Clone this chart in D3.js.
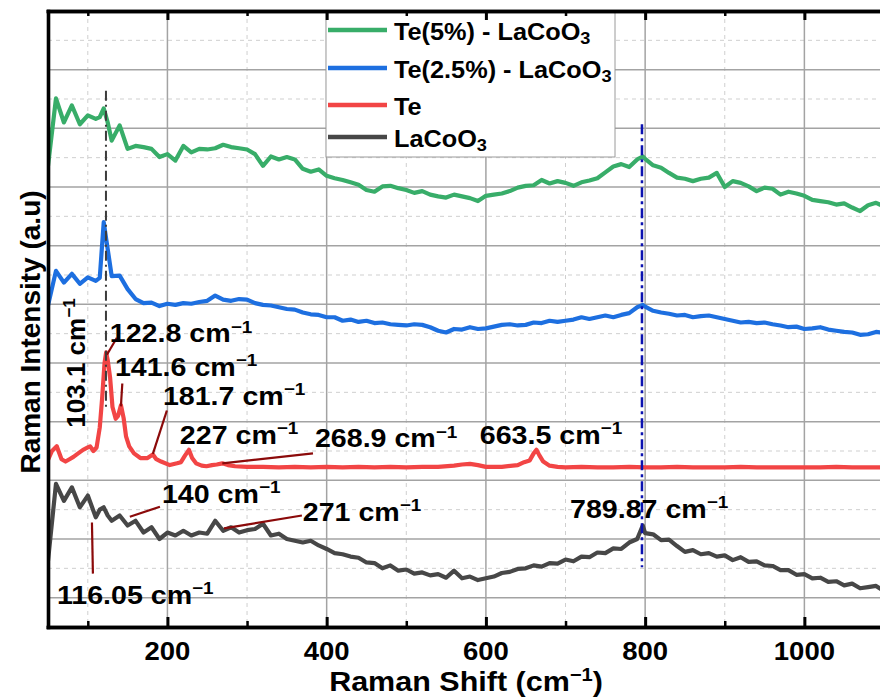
<!DOCTYPE html>
<html>
<head>
<meta charset="utf-8">
<script src="https://cdn.jsdelivr.net/npm/d3@7"></script>
<style>
  body { margin: 0; background: #fff; }
  svg text { font-family: "Liberation Sans", Arial, sans-serif; font-weight: bold; fill: #000; }
</style>
</head>
<body>
<script>
// Raman shift (cm-1) shared by the three broad spectra
const shift = [50,60,70,80,90,100,110,115,120,125,130,140,150,160,170,180,190,200,210,220,
  230,240,250,260,270,280,290,300,310,320,330,340,350,360,370,380,390,400,410,420,
  430,440,450,460,470,480,490,500,510,520,530,540,550,560,570,580,590,600,610,620,
  630,640,650,660,670,680,690,700,710,720,730,740,750,760,770,780,790,797,800,810,
  820,830,840,850,860,870,880,890,900,910,920,930,940,950,960,970,980,990,1000,1010,
  1020,1030,1040,1050,1060,1070,1080,1090,1100];

// stacked intensities (a.u.)
const te5 = [736,851,810,839,807,822,816,819,834,810,779,805,765,770,768,765,751,756,745,770,
  759,765,764,766,772,768,766,764,756,736,752,747,751,747,731,726,730,719,715,712,
  708,704,695,692,701,702,698,695,690,693,687,684,682,687,684,681,676,685,687,689,
  693,699,702,703,712,706,710,707,702,708,711,715,725,735,739,734,747,752,748,737,
  733,724,716,714,710,714,716,724,700,710,707,701,693,699,697,687,692,689,685,678,
  676,674,670,672,665,659,669,673,667];

const te25 = [498,557,537,552,535,546,540,545,640,594,548,549,526,509,502,503,497,501,499,502,
  501,504,506,515,508,506,509,508,502,499,498,495,492,491,486,483,482,478,478,472,
  474,470,472,468,469,466,465,464,466,465,461,455,452,458,457,461,458,459,462,465,
  466,464,465,469,468,472,470,472,474,478,475,478,481,478,482,485,495,499,496,489,
  486,484,481,482,478,480,481,478,475,472,469,470,468,469,466,464,461,462,458,459,
  461,457,455,453,452,448,449,453,451];

const lacoo = [63,194,165,188,154,174,137,150,154,140,131,140,123,131,111,120,100,111,106,114,
  106,111,109,131,114,120,111,115,117,126,106,109,100,97,94,97,89,83,76,74,
  70,68,60,59,50,55,46,48,41,43,38,40,34,46,33,36,30,33,36,42,
  44,49,50,55,53,59,58,65,62,70,69,77,76,84,83,94,100,123,110,108,
  98,99,88,78,81,74,76,70,72,64,69,61,62,55,54,47,47,39,40,33,
  34,27,28,21,24,16,18,20,11];

// pure Te spectrum, sampled more finely around its peaks
const teShift = [50,55,61,67,72,77,82,87,94,100,103,107,111,115,118,121,123,125,128,131,
  135,138,141.6,145,148,152,158,166,175,181.7,186,192,203,212,217,222,227,231,236,243,
  249,256,262,269,276,285,300,320,340,360,380,400,420,440,460,480,500,520,540,560,
  570,580,590,600,620,640,648,655,660,663.5,667,672,680,690,700,720,740,760,780,800,
  820,840,860,880,900,920,940,960,980,1000,1020,1040,1060,1080,1100];
const te = [235,250,258,236,232,236,240,245,252,256,258,250,256,290,340,400,418,405,375,325,
  305,310,328,306,275,258,246,238,238,244,236,232,226,229,231,242,252,238,229,225,
  224,226,227,229,226,224,223,223,222,223,222,223,222,223,222,223,222,223,223,225,
  227,228,226,223,223,226,231,234,246,252,243,232,225,223,222,223,222,222,223,222,
  222,223,222,222,222,223,222,222,222,222,222,223,222,222,222];

const seriesNames = ["Te(5%) - LaCoO", "Te(2.5%) - LaCoO", "Te", "LaCoO"];
const seriesSub = ["3", "3", "", "3"];
const seriesColors = ["#38ad69", "#1d6fe0", "#f24545", "#474747"];

const xMajor = [200, 400, 600, 800, 1000];
const xMinor = [100, 300, 500, 700, 900, 1100];

// peak labels: text anchor and optional leader line, in data units
const peaks = [
  {label: "103.1", x: 96.5, y: 400, rotate: true},
  {label: "122.8", x: 127.6, y: 435, line: [136.5, 443, 124, 414]},
  {label: "141.6", x: 134, y: 378, line: [143.3, 365, 141.6, 326]},
  {label: "181.7", x: 194.3, y: 329, line: [199.3, 319, 181.7, 245]},
  {label: "227", x: 215.6, y: 262},
  {label: "268.9", x: 385.3, y: 256, line: [382.8, 246, 268.9, 229]},
  {label: "663.5", x: 592.3, y: 262},
  {label: "140", x: 193.1, y: 162, line: [190.6, 155, 152.8, 138]},
  {label: "271", x: 370, y: 131, line: [368.9, 140, 271, 118]},
  {label: "116.05", x: 61.2, y: -10, line: [105.2, 128, 106.4, 41]},
  {label: "789.87", x: 705.6, y: 136}
];

// dash-dot guide lines
const guides = [
  {x: 122.8, from: 325, to: 864, color: "#3c3c3c", dash: "10,4,2,4", w: 2},
  {x: 796, from: 52, to: 807, color: "#0b12b0", dash: "10,4,3,4", w: 2.5}
];

const width = 880, height = 700;
const stretch = 1.1;

const x = d3.scaleLinear().domain([50, 1100]).range([48, 884]);
const y = d3.scaleLinear().domain([-50, 1000]).range([627, 11]);

const svg = d3.select("body").append("svg")
  .attr("width", width).attr("height", height)
  .attr("viewBox", [0, 0, width, height]);

svg.append("defs").append("clipPath").attr("id", "plot")
  .append("rect").attr("x", 48).attr("y", 11).attr("width", 836).attr("height", 616);

// grid
const grid = svg.append("g");
grid.selectAll(".vmin").data(xMinor).join("line")
  .attr("x1", d => x(d)).attr("x2", d => x(d)).attr("y1", 11).attr("y2", 627)
  .attr("stroke", "#cfcfcf").attr("stroke-width", 1).attr("stroke-dasharray", "4,4");
grid.selectAll(".hmin").data(d3.range(50, 1000, 100)).join("line")
  .attr("y1", d => y(d)).attr("y2", d => y(d)).attr("x1", 48).attr("x2", 884)
  .attr("stroke", "#cfcfcf").attr("stroke-width", 1).attr("stroke-dasharray", "4,4");
grid.selectAll(".vmaj").data(xMajor).join("line")
  .attr("x1", d => x(d)).attr("x2", d => x(d)).attr("y1", 11).attr("y2", 627)
  .attr("stroke", "#a3a3a3").attr("stroke-width", 1.5);
grid.selectAll(".hmaj").data(d3.range(0, 1000, 100)).join("line")
  .attr("y1", d => y(d)).attr("y2", d => y(d)).attr("x1", 48).attr("x2", 884)
  .attr("stroke", "#a3a3a3").attr("stroke-width", 1.5);

// spectra
const line = d3.line().x(d => x(d[0])).y(d => y(d[1]));
const spectra = [d3.zip(shift, te5), d3.zip(shift, te25), d3.zip(teShift, te), d3.zip(shift, lacoo)];
svg.append("g").attr("clip-path", "url(#plot)")
  .selectAll("path").data(spectra).join("path")
    .attr("d", line)
    .attr("fill", "none")
    .attr("stroke", (d, i) => seriesColors[i])
    .attr("stroke-width", 4.2)
    .attr("stroke-linejoin", "round");

// guides
svg.append("g").selectAll("line").data(guides).join("line")
  .attr("x1", d => x(d.x)).attr("x2", d => x(d.x))
  .attr("y1", d => y(d.to)).attr("y2", d => y(d.from))
  .attr("stroke", d => d.color).attr("stroke-width", d => d.w)
  .attr("stroke-dasharray", d => d.dash);

// text with a superscript -1
const withSup = (t, base, size, tail) => {
  t.append("tspan").text(base);
  t.append("tspan").attr("font-size", size * 0.66).attr("dy", -size * 0.37).text("\u22121");
  if (tail) t.append("tspan").attr("dy", size * 0.37).text(tail);
};

// peak labels
const ann = svg.append("g");
peaks.forEach(p => {
  if (p.line) {
    ann.append("line")
      .attr("x1", x(p.line[0])).attr("y1", y(p.line[1]))
      .attr("x2", x(p.line[2])).attr("y2", y(p.line[3]))
      .attr("stroke", "#8b0a0a").attr("stroke-width", 2.2);
  }
  const g = ann.append("g").attr("transform", p.rotate
    ? `translate(${x(p.x)},${y(p.y)}) rotate(-90)`
    : `translate(${x(p.x)},${y(p.y)}) scale(${stretch},1)`);
  const t = g.append("text").attr("font-size", 26)
    .attr("text-anchor", p.rotate ? "middle" : "start");
  withSup(t, p.label + " cm", 26);
});

// legend
const leg = svg.append("g");
leg.append("rect").attr("x", 326).attr("y", 11).attr("width", 289).attr("height", 146)
  .attr("fill", "#fff").attr("stroke", "#9a9a9a").attr("stroke-width", 1);
const rowY = [30, 68, 105, 137];
seriesNames.forEach((name, i) => {
  leg.append("line").attr("x1", 328).attr("x2", 387).attr("y1", rowY[i]).attr("y2", rowY[i])
    .attr("stroke", seriesColors[i]).attr("stroke-width", 4.5);
  const t = leg.append("g").attr("transform", `translate(394,${rowY[i] + 10}) scale(${stretch},1)`)
    .append("text").attr("font-size", 23);
  t.append("tspan").text(name);
  if (seriesSub[i]) t.append("tspan").attr("font-size", 16.5).attr("dy", 4).text(seriesSub[i]);
});

// axes
const styleAxis = (g, w) => {
  g.select(".domain").attr("stroke-width", 3.6).attr("stroke-linecap", "square");
  g.selectAll(".tick line").attr("stroke-width", w);
  g.selectAll(".tick text").remove();
};
svg.append("g").attr("transform", `translate(0,${y(-50)})`)
  .call(d3.axisBottom(x).tickValues(xMajor).tickSizeInner(-10).tickSizeOuter(0))
  .call(g => styleAxis(g, 3));
svg.append("g").attr("transform", `translate(0,${y(-50)})`)
  .call(d3.axisBottom(x).tickValues(xMinor).tickSizeInner(-6).tickSizeOuter(0))
  .call(g => styleAxis(g, 2.5));
svg.append("g").attr("transform", `translate(0,${y(1000)})`)
  .call(d3.axisTop(x).tickValues(xMajor).tickSizeInner(-9).tickSizeOuter(0))
  .call(g => styleAxis(g, 3));
svg.append("g").attr("transform", `translate(0,${y(1000)})`)
  .call(d3.axisTop(x).tickValues(xMinor).tickSizeInner(-5).tickSizeOuter(0))
  .call(g => styleAxis(g, 2.5));
svg.append("g").attr("transform", `translate(${x(50)},0)`)
  .call(d3.axisLeft(y).tickValues([]).tickSizeOuter(0))
  .call(g => styleAxis(g, 0));

// tick labels
svg.append("g").selectAll("g").data(xMajor).join("g")
  .attr("transform", d => `translate(${x(d)},660) scale(${stretch},1)`)
  .append("text").attr("font-size", 25).attr("text-anchor", "middle").text(d => d);

// axis titles
const xt = svg.append("g").attr("transform", "translate(466,691) scale(1.13,1)")
  .append("text").attr("font-size", 27).attr("text-anchor", "middle");
withSup(xt, "Raman Shift (cm", 27, ")");

svg.append("g").attr("transform", "translate(40,332) rotate(-90)")
  .append("text").attr("font-size", 28).attr("text-anchor", "middle")
  .text("Raman Intensity (a.u)");
</script>
</body>
</html>
